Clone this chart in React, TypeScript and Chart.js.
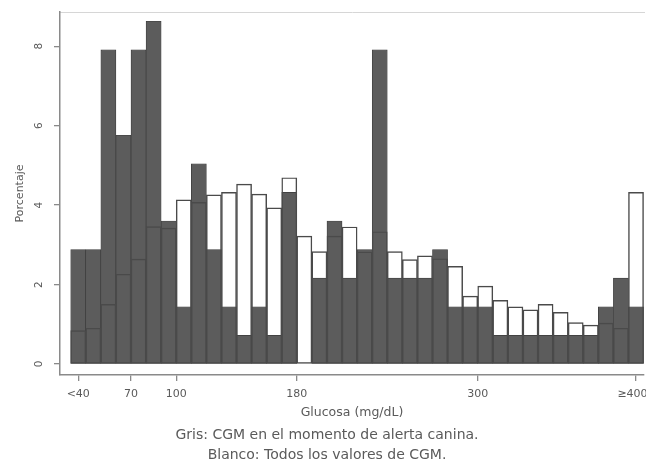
import React, { useEffect, useRef } from "react";
import { Chart, registerables } from "chart.js";

Chart.register(...registerables);

// Bin centres (mg/dL), 10 mg/dL bins from "<40" (30-40) to "≥400" (400-410)
const binCenters = [35, 45, 55, 65, 75, 85, 95, 105, 115, 125, 135, 145, 155, 165, 175, 185, 195, 205, 215, 225, 235, 245, 255, 265, 275, 285, 295, 305, 315, 325, 335, 345, 355, 365, 375, 385, 395, 405];

// White: all CGM values (%)
const allCgmPct = [0.84, 0.90, 1.50, 2.26, 2.64, 3.46, 3.42, 4.13, 4.07, 4.26, 4.32, 4.53, 4.28, 3.93, 4.69, 3.22, 2.83, 3.22, 3.45, 2.82, 3.33, 2.83, 2.63, 2.72, 2.65, 2.46, 1.71, 1.96, 1.60, 1.44, 1.36, 1.50, 1.30, 1.04, 0.98, 1.03, 0.90, 4.32];

// Gray: CGM at the moment of canine alert (%)
const alertCgmPct = [2.88, 2.88, 7.91, 5.76, 7.91, 8.63, 3.60, 1.44, 5.04, 2.88, 1.44, 0.72, 1.44, 0.72, 4.32, 0, 2.16, 3.60, 2.16, 2.88, 7.91, 2.16, 2.16, 2.16, 2.88, 1.44, 1.44, 1.44, 0.72, 0.72, 0.72, 0.72, 0.72, 0.72, 0.72, 1.44, 2.16, 1.44];

const xTickValues = [35, 70, 100, 180, 300, 405];
const xTickLabels = ["<40", "70", "100", "180", "300", "≥400  "];
const yTickValues = [0, 2, 4, 6, 8];

const captionLines = [
  "Gris: CGM en el momento de alerta canina.",
  "Blanco: Todos los valores de CGM.",
];

const FONT = "'DejaVu Sans', 'Liberation Sans', sans-serif";
const TEXT = "#5a5a5a";
const AXIS = "#8a8a8a";

const zeroPad = (s: any) => {
  s.paddingLeft = 0;
  s.paddingRight = 0;
  s.paddingTop = 0;
  s.paddingBottom = 0;
};

export default function App() {
  const ref = useRef<HTMLCanvasElement | null>(null);

  useEffect(() => {
    if (!ref.current) return;
    const chart = new Chart(ref.current, {
      type: "bar",
      data: {
        datasets: [
          {
            label: "Blanco",
            data: binCenters.map((x, i) => ({ x, y: allCgmPct[i] })),
            backgroundColor: "rgba(255,255,255,0)",
            borderColor: "#4a4a4a",
            borderWidth: 0.8,
            borderSkipped: false,
            barPercentage: 1,
            categoryPercentage: 1,
            grouped: false,
          },
          {
            label: "Gris",
            data: binCenters.map((x, i) => ({ x, y: alertCgmPct[i] })),
            backgroundColor: "#5c5c5c",
            borderColor: "#3a3a3a",
            borderWidth: 0.7,
            borderSkipped: false,
            barPercentage: 1,
            categoryPercentage: 1,
            grouped: false,
          },
        ],
      },
      options: {
        responsive: false,
        animation: false,
        devicePixelRatio: 1,
        layout: { padding: { left: 10, right: 2, top: 12, bottom: 0 } },
        plugins: {
          legend: { display: false },
          tooltip: { enabled: false },
          title: {
            display: true,
            position: "bottom",
            text: captionLines,
            color: TEXT,
            font: { family: FONT, size: 14, weight: "normal", lineHeight: 1.43 },
            padding: { top: 4, bottom: 1 },
          },
        },
        scales: {
          x: {
            type: "linear",
            position: "bottom",
            min: 22.9,
            max: 410.3,
            offset: false,
            afterBuildTicks: (s: any) => {
              s.ticks = xTickValues.map((v) => ({ value: v }));
            },
            afterFit: (s: any) => {
              s.height = 46;
              zeroPad(s);
            },
            ticks: {
              autoSkip: false,
              maxRotation: 0,
              minRotation: 0,
              padding: 7,
              color: TEXT,
              font: { family: FONT, size: 11 },
              callback: (v: any) => {
                const i = xTickValues.indexOf(Number(v));
                return i >= 0 ? xTickLabels[i] : "";
              },
            },
            grid: {
              display: true,
              offset: false,
              drawOnChartArea: false,
              drawTicks: true,
              tickLength: 6,
              color: AXIS,
              lineWidth: 1.3,
            },
            border: { display: true, color: AXIS, width: 1.5 },
            title: {
              display: true,
              text: "Glucosa (mg/dL)",
              color: TEXT,
              font: { family: FONT, size: 12.5 },
              padding: { top: 0, bottom: 0.5 },
            },
          },
          x2: {
            type: "linear",
            position: "top",
            min: 22.9,
            max: 410.3,
            afterFit: (s: any) => {
              s.height = 0;
              zeroPad(s);
            },
            ticks: { display: false },
            grid: { display: false, drawTicks: false },
            border: { display: true, color: "#d6d6d6", width: 1 },
          },
          y: {
            type: "linear",
            min: -0.277,
            max: 8.863,
            afterBuildTicks: (s: any) => {
              s.ticks = yTickValues.map((v) => ({ value: v }));
            },
            afterFit: (s: any) => {
              s.width = 50;
              zeroPad(s);
            },
            ticks: {
              minRotation: 90,
              maxRotation: 90,
              crossAlign: "center",
              padding: 11,
              color: TEXT,
              font: { family: FONT, size: 10.5 },
            },
            grid: {
              display: true,
              drawOnChartArea: false,
              drawTicks: true,
              tickLength: 6,
              color: AXIS,
              lineWidth: 1.3,
            },
            border: { display: true, color: AXIS, width: 1.5 },
            title: {
              display: true,
              text: "Porcentaje",
              color: TEXT,
              font: { family: FONT, size: 11 },
              padding: { top: 4, bottom: 0 },
            },
          },
        },
      },
    } as any);
    return () => chart.destroy();
  }, []);

  return (
    <div style={{ position: "absolute", left: 0, top: 0, width: 646, height: 466, background: "#fff" }}>
      <canvas ref={ref} width={646} height={466} style={{ display: "block" }} />
    </div>
  );
}
